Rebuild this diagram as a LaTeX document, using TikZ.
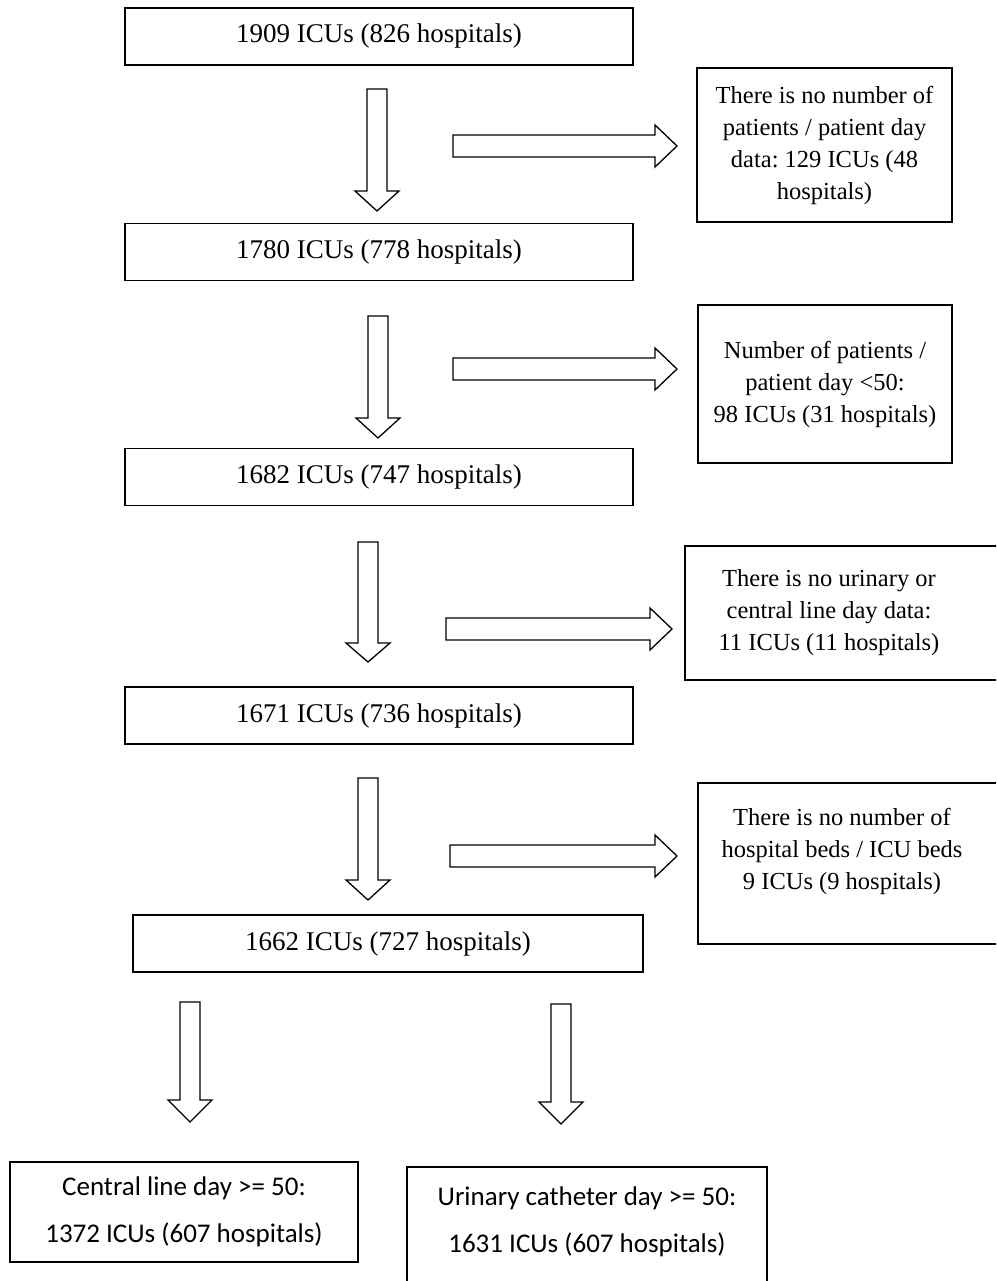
\documentclass[tikz,border=0pt]{standalone}
\usepackage{fontspec}
\setmainfont{Liberation Serif}
\newfontfamily\calibrifont{Carlito}
\frenchspacing
\newcommand\dnblock[4]{%
  \draw[blk] (#1-10,#2) -- (#1+10,#2) -- (#1+10,#3) -- (#1+22,#3) -- (#1,#4) -- (#1-22,#3) -- (#1-10,#3) -- cycle;}
\newcommand\rtblock[4]{%
  \draw[blk] (#1,#2-11) -- (#3,#2-11) -- (#3,#2-21) -- (#4,#2) -- (#3,#2+21) -- (#3,#2+11) -- (#1,#2+11) -- cycle;}
\begin{document}
\begin{tikzpicture}[x=1pt,y=-1pt,
  mainbox/.style={draw, line width=1.6pt, minimum width=508pt, minimum height=57pt, inner sep=0pt,
    font=\fontsize{27}{32}\selectfont},
  sidebox/.style={draw, line width=1.6pt, inner sep=0pt},
  sidetext/.style={align=center, inner sep=0pt, font=\fontsize{24.5}{32}\selectfont},
  botbox/.style={draw, line width=1.6pt, inner sep=0pt, align=center,
    font=\calibrifont\fontsize{27}{47}\selectfont},
  blk/.style={draw, line width=1.3pt, fill=white, line join=miter}]
\clip (0,0) rectangle (996,1281);
\fill[white] (0,0) rectangle (996,1281);
% main column
\node[mainbox] (n1) at (379,36.5) {1909 ICUs (826 hospitals)};
\node[mainbox] (n2) at (379,252) {1780 ICUs (778 hospitals)};
\node[mainbox] (n3) at (379,477) {1682 ICUs (747 hospitals)};
\node[mainbox] (n4) at (379,715.5) {1671 ICUs (736 hospitals)};
\node[mainbox, minimum width=510pt] (n5) at (388,943.5) {1662 ICUs (727 hospitals)};
% side boxes
\node[sidebox, minimum width=255pt, minimum height=154pt] (s1) at (824.5,145) {};
\node[sidetext] (t1) at (s1) {There is no number of\\patients / patient day\\data: 129 ICUs (48\\hospitals)};
\node[sidebox, minimum width=254pt, minimum height=158pt] (s2) at (825,384) {};
\node[sidetext] (t2) at (s2) {Number of patients /\\patient day {<}50:\\98 ICUs (31 hospitals)};
\node[sidebox, minimum width=340pt, minimum height=134pt] (s3) at (855,613) {};
\node[sidetext] (t3) at (829,613) {There is no urinary or\\central line day data:\\11 ICUs (11 hospitals)};
\node[sidebox, minimum width=330pt, minimum height=161pt] (s4) at (863,863.5) {};
\node[sidetext] (t4) at (842,851) {There is no number of\\hospital beds / ICU beds\\9 ICUs (9 hospitals)};
% bottom boxes
\node[botbox, minimum width=348pt, minimum height=100pt] (b1) at (184,1212) {Central line day >= 50:\\1372 ICUs (607 hospitals)};
\node[sidebox, minimum width=360pt, minimum height=140pt] (b2) at (587,1237) {};
\node[botbox, draw=none] (t6) at (587,1222) {Urinary catheter day >= 50:\\1631 ICUs (607 hospitals)};
% block arrows
\dnblock{377}{89}{191}{211}
\dnblock{378}{316}{418}{438}
\dnblock{368}{542}{643}{662}
\dnblock{368}{778}{880}{900}
\dnblock{190}{1002}{1100}{1122}
\dnblock{561}{1004}{1102}{1124}
\rtblock{453}{146}{655}{677}
\rtblock{453}{369}{655}{677}
\rtblock{446}{629}{650}{672}
\rtblock{450}{856}{655}{677}
\end{tikzpicture}
\end{document}
